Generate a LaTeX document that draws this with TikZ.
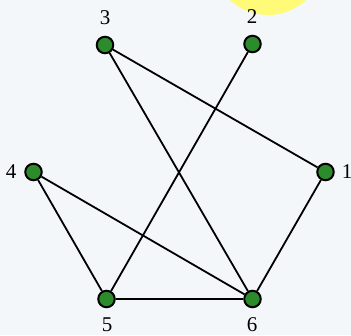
\documentclass[tikz,border=0pt]{standalone}
\usepackage{fontspec}
\setmainfont{Liberation Serif}
\definecolor{bg}{RGB}{244,247,250}
\definecolor{vgreen}{RGB}{44,140,44}
\definecolor{hilite}{RGB}{255,250,120}
\begin{document}
\begin{tikzpicture}[x=1pt,y=-1pt,
  vertex/.style={circle,draw=black,fill=vgreen,line width=2pt,minimum size=16.5pt,inner sep=0pt},
  lbl/.style={font=\fontsize{21}{21}\selectfont,inner sep=0pt},
  edge/.style={line width=1.8pt,black}]
\fill[bg] (0,0) rectangle (351,335);
\useasboundingbox (0,0) rectangle (351,335);
\begin{scope}
\clip (0,0) rectangle (351,335);
\fill[hilite] (268,-41) circle (56);
\end{scope}
\node[vertex] (n3) at (105,45) {};
\node[vertex] (n2) at (252.5,44) {};
\node[vertex] (n4) at (33.5,172) {};
\node[vertex] (n1) at (325.5,172) {};
\node[vertex] (n5) at (106.5,299) {};
\node[vertex] (n6) at (252.5,299) {};
\draw[edge] (n3) -- (n1);
\draw[edge] (n3) -- (n6);
\draw[edge] (n2) -- (n5);
\draw[edge] (n4) -- (n5);
\draw[edge] (n4) -- (n6);
\draw[edge] (n1) -- (n6);
\draw[edge] (n5) -- (n6);
\node[lbl] (l3) at (105,18) {3};
\node[lbl] (l2) at (252,17) {2};
\node[lbl] (l4) at (11,172) {4};
\node[lbl] (l1) at (347,172) {1};
\node[lbl] (l5) at (107,325) {5};
\node[lbl] (l6) at (252,325) {6};
\end{tikzpicture}
\end{document}
